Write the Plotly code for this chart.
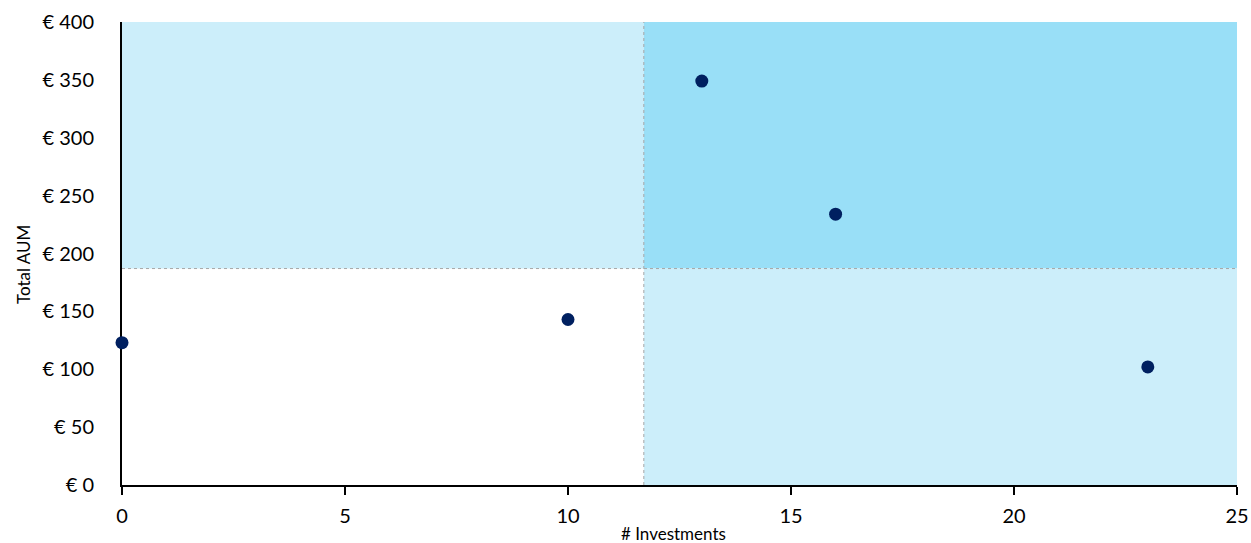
import plotly.graph_objects as go

# Portfolio data: number of investments vs total assets under management
investments = [0, 10, 13, 16, 23]
total_aum = [123, 143, 349, 234, 102]

# Quadrant split values
x_split = 11.7
y_split = 187

x_ticks = [0, 5, 10, 15, 20, 25]
y_ticks = [0, 50, 100, 150, 200, 250, 300, 350, 400]
y_tick_text = ["€ " + str(v) for v in y_ticks]

x_max = 25
y_max = 400

LIGHT = "#CCEEFA"
DARK = "#99DFF7"
GRID = "#A6A6A6"
FONT = "Lato, 'Open Sans', sans-serif"

fig = go.Figure()

fig.add_trace(go.Scatter(
    x=investments, y=total_aum, mode="markers",
    marker=dict(size=13, color="#002060"),
    cliponaxis=False, showlegend=False,
    hovertemplate="%{x}, € %{y}<extra></extra>",
))

shapes = [
    dict(type="rect", xref="x", yref="y", x0=0, x1=x_split, y0=y_split, y1=y_max,
         fillcolor=LIGHT, line_width=0, layer="below"),
    dict(type="rect", xref="x", yref="y", x0=x_split, x1=x_max, y0=y_split, y1=y_max,
         fillcolor=DARK, line_width=0, layer="below"),
    dict(type="rect", xref="x", yref="y", x0=x_split, x1=x_max, y0=0, y1=y_split,
         fillcolor=LIGHT, line_width=0, layer="below"),
    dict(type="line", xref="x", yref="y", x0=x_split, x1=x_split, y0=0, y1=y_max,
         line=dict(color=GRID, width=1, dash="dot"), layer="below"),
    dict(type="line", xref="x", yref="y", x0=0, x1=x_max, y0=y_split, y1=y_split,
         line=dict(color=GRID, width=1, dash="dot"), layer="below"),
]

fig.update_layout(
    width=1251, height=543,
    margin=dict(l=122, r=14, t=22, b=58, autoexpand=False),
    paper_bgcolor="white", plot_bgcolor="white",
    font=dict(family=FONT, color="#000000"),
    shapes=shapes,
    xaxis=dict(
        range=[0, x_max], tickvals=x_ticks, showgrid=False, zeroline=False,
        showline=True, linecolor="#000000", linewidth=2,
        ticks="outside", ticklen=8, tickwidth=1.5, tickcolor="#000000",
        tickfont=dict(size=20, family=FONT), ticklabelstandoff=4,
        layer="below traces", automargin=False,
    ),
    yaxis=dict(
        range=[0, y_max], tickvals=y_ticks, ticktext=y_tick_text,
        showgrid=False, zeroline=False,
        showline=True, linecolor="#000000", linewidth=2,
        ticks="", tickfont=dict(size=20, family=FONT), ticklabelstandoff=22,
        layer="below traces", automargin=False,
    ),
    annotations=[
        dict(text="# Investments", xref="paper", yref="paper", x=0.4945, y=0,
             yshift=-48, xanchor="center", yanchor="middle", showarrow=False,
             font=dict(size=17, family=FONT)),
        dict(text="Total AUM", xref="paper", yref="paper", x=0, y=0.475,
             xshift=-99, xanchor="center", yanchor="middle", textangle=-90,
             showarrow=False, font=dict(size=17, family=FONT)),
    ],
)

fig.write_html("out.html")
